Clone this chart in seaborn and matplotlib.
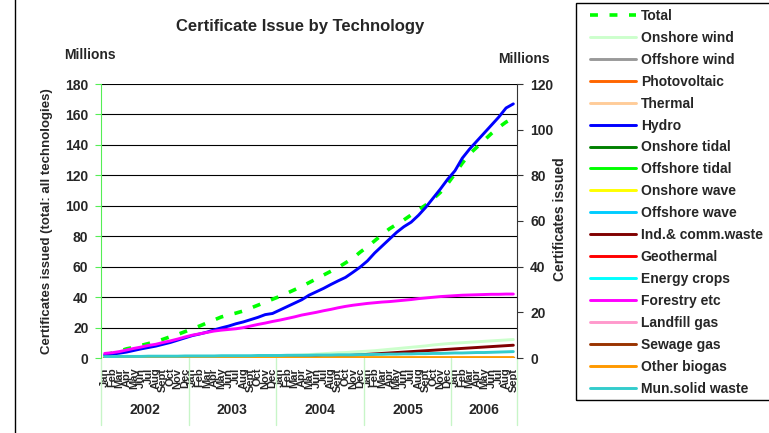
import matplotlib
matplotlib.use('Agg')
import matplotlib.pyplot as plt
import matplotlib.transforms as mtransforms
from matplotlib.patches import Rectangle
import seaborn as sns

#%% data (millions of certificates, Jan 2002 .. Sep 2006)
month_names = ['Jan', 'Feb', 'Mar', 'Apr', 'May', 'Jun',
               'Jul', 'Aug', 'Sept', 'Oct', 'Nov', 'Dec']
months = month_names * 4 + month_names[:9]
years = ['2002', '2003', '2004', '2005', '2006']

# left axis
total = [2.0, 3.2, 4.5, 6.0, 7.0, 8.3, 9.5, 10.8, 12.3, 14.0, 15.5, 17.3,
         19.2, 21.0, 23.0, 25.0, 27.0, 28.3, 29.5, 30.9, 32.8, 34.7, 36.6, 38.6,
         40.5, 42.6, 44.8, 47.0, 49.5, 52.0, 54.5, 57.0, 59.5, 62.5, 65.5, 69.5,
         73.0, 77.0, 81.0, 84.8, 87.8, 90.7, 94.0, 97.3, 100.5, 104.5, 108.8, 114.5,
         121.0, 128.0, 134.0, 138.5, 143.0, 147.5, 151.5, 155.0, 157.5]

# right axis
hydro = [1.3, 1.7, 2.1, 2.6, 3.3, 4.0, 4.6, 5.2, 6.0, 6.8, 7.8, 8.8,
         9.8, 10.5, 11.3, 12.3, 13.2, 14.0, 15.0, 15.8, 16.8, 17.8, 19.0, 19.5,
         21.0, 22.5, 24.0, 25.5, 27.5, 29.0, 30.5, 32.2, 33.8, 35.3, 37.5, 39.8,
         42.5, 46.0, 49.0, 52.0, 55.0, 57.5, 59.5, 62.5, 66.0, 70.0, 74.0, 78.3,
         82.0, 87.5, 91.5, 95.0, 98.5, 102.0, 105.5, 109.5, 111.3]
forestry = [2.0, 2.3, 2.8, 3.5, 4.2, 4.8, 5.5, 6.0, 6.8, 7.5, 8.3, 9.2,
            10.0, 10.6, 11.2, 11.8, 12.2, 12.5, 12.8, 13.3, 14.0, 14.7, 15.3, 16.0,
            16.6, 17.3, 18.0, 18.8, 19.4, 20.0, 20.7, 21.3, 22.0, 22.6, 23.1, 23.5,
            23.9, 24.2, 24.5, 24.7, 25.0, 25.3, 25.6, 26.0, 26.3, 26.6, 26.9, 27.1,
            27.3, 27.5, 27.6, 27.7, 27.8, 27.9, 27.9, 28.0, 28.0]
onshore_wind = [0.2, 0.2, 0.2, 0.2, 0.2, 0.3, 0.3, 0.3, 0.3, 0.3, 0.3, 0.4,
                0.4, 0.4, 0.4, 0.5, 0.5, 0.5, 0.5, 0.6, 0.6, 0.6, 0.7, 0.7,
                0.9, 1.0, 1.2, 1.3, 1.5, 1.7, 1.9, 2.1, 2.3, 2.4, 2.6, 2.8,
                3.0, 3.2, 3.5, 3.8, 4.1, 4.4, 4.7, 5.0, 5.3, 5.7, 6.0, 6.3,
                6.5, 6.7, 6.9, 7.1, 7.3, 7.5, 7.7, 7.9, 8.1]
ind_waste = [0.0, 0.0, 0.0, 0.0, 0.0, 0.0, 0.0, 0.0, 0.0, 0.0, 0.0, 0.0,
             0.0, 0.0, 0.0, 0.0, 0.0, 0.0, 0.0, 0.0, 0.0, 0.0, 0.0, 0.0,
             0.1, 0.1, 0.2, 0.2, 0.3, 0.4, 0.5, 0.6, 0.8, 1.0, 1.2, 1.4,
             1.6, 1.8, 2.0, 2.2, 2.4, 2.6, 2.8, 3.0, 3.2, 3.4, 3.6, 3.8,
             4.0, 4.2, 4.4, 4.6, 4.8, 5.0, 5.2, 5.4, 5.6]
mun_waste = [0.6, 0.6, 0.7, 0.7, 0.7, 0.7, 0.8, 0.8, 0.8, 0.8, 0.8, 0.9,
             0.9, 0.9, 0.9, 0.9, 1.0, 1.0, 1.0, 1.0, 1.0, 1.1, 1.1, 1.1,
             1.1, 1.2, 1.2, 1.2, 1.2, 1.3, 1.3, 1.3, 1.4, 1.4, 1.4, 1.5,
             1.5, 1.6, 1.6, 1.7, 1.7, 1.8, 1.8, 1.9, 1.9, 2.0, 2.0, 2.1,
             2.2, 2.2, 2.3, 2.4, 2.4, 2.5, 2.6, 2.7, 2.8]
other_biogas = [0.1, 0.1, 0.1, 0.1, 0.1, 0.1, 0.1, 0.1, 0.1, 0.1, 0.1, 0.1,
                0.1, 0.1, 0.1, 0.1, 0.1, 0.1, 0.1, 0.1, 0.1, 0.1, 0.1, 0.1,
                0.1, 0.1, 0.1, 0.1, 0.1, 0.1, 0.2, 0.2, 0.2, 0.2, 0.2, 0.2,
                0.2, 0.2, 0.2, 0.2, 0.2, 0.2, 0.2, 0.2, 0.2, 0.2, 0.2, 0.2,
                0.2, 0.2, 0.2, 0.2, 0.2, 0.2, 0.2, 0.2, 0.2]
# technologies that stay at (about) zero over the whole period
flat_zero = [0.0] * len(months)

series = [  # (label, values, colour)
    ('Onshore wind', onshore_wind, '#ccffcc'),
    ('Offshore wind', flat_zero, '#999999'),
    ('Photovoltaic', flat_zero, '#ff6600'),
    ('Thermal', flat_zero, '#ffcc99'),
    ('Hydro', hydro, '#0000ff'),
    ('Onshore tidal', flat_zero, '#008000'),
    ('Offshore tidal', flat_zero, '#00ff00'),
    ('Onshore wave', flat_zero, '#ffff00'),
    ('Offshore wave', flat_zero, '#00ccff'),
    ('Ind.& comm.waste', ind_waste, '#800000'),
    ('Geothermal', flat_zero, '#ff0000'),
    ('Energy crops', flat_zero, '#00ffff'),
    ('Forestry etc', forestry, '#ff00ff'),
    ('Landfill gas', flat_zero, '#ff99cc'),
    ('Sewage gas', flat_zero, '#993300'),
    ('Other biogas', other_biogas, '#ff9900'),
    ('Mun.solid waste', mun_waste, '#33cccc'),
]

#%% figure
sns.set_style('white')
plt.rcParams['font.family'] = ['Liberation Sans', 'DejaVu Sans']
plt.rcParams['font.weight'] = 'bold'

W, H = 769, 433
fig = plt.figure(figsize=(W / 100, H / 100), dpi=100)
ax = fig.add_axes([101 / W, 1 - 358 / H, (517 - 101) / W, (358 - 84) / H])
ax2 = ax.twinx()

idx = list(range(len(months)))
axis_green = '#55ee55'
sep_green = '#c8f5c8'

sns.lineplot(x=idx, y=total, ax=ax, color='#00ff00', lw=2.6,
             linestyle=(0, (2.2, 3.2)), label='Total', legend=False)
for name, vals, col in series:
    sns.lineplot(x=idx, y=vals, ax=ax2, color=col, lw=2.1, label=name, legend=False)

ax.set_xlim(-0.5, len(months) - 0.5)
ax.set_ylim(0, 180)
ax2.set_ylim(0, 120)
ax.set_yticks(range(0, 181, 20))
ax2.set_yticks(range(0, 121, 20))
ax.grid(axis='y', color='black', lw=0.8)
ax.grid(axis='x', visible=False)
ax.set_axisbelow(True)

for s in ['top', 'right', 'bottom']:
    ax.spines[s].set_visible(False)
for s in ['top', 'left', 'bottom']:
    ax2.spines[s].set_visible(False)
ax.spines['left'].set_color(axis_green)
ax2.spines['right'].set_color('#333333')

ax.tick_params(axis='y', length=4, color=axis_green, pad=5, labelsize=10, left=True)
ax2.tick_params(axis='y', length=4, color='#333333', pad=5.5, labelsize=10, right=True)
ax.set_xticks(idx)
ax.set_xticklabels(months, rotation=90, fontsize=8, fontweight='bold')
ax.tick_params(axis='x', length=0, pad=7)
for t in ax.get_yticklabels() + ax2.get_yticklabels():
    t.set_fontweight('bold')

# year groups below the month labels
trans = mtransforms.blended_transform_factory(ax.transData, ax.transAxes)
bounds = [-0.5, 11.5, 23.5, 35.5, 47.5, 56.5]
for b in bounds:
    ax.plot([b, b], [0, -0.245], transform=trans, clip_on=False, color=sep_green, lw=1)
for y, lo, hi in zip(years, bounds[:-1], bounds[1:]):
    ax.text((lo + hi) / 2, -0.19, y, transform=trans, ha='center', va='center',
            fontsize=10, fontweight='bold')

# titles and axis labels
fig.text(300 / W, 1 - 26 / H, 'Certificate Issue by Technology', ha='center', va='center',
         fontsize=12, fontweight='bold')
fig.text(90 / W, 1 - 55 / H, 'Millions', ha='center', va='center', fontsize=10, fontweight='bold')
fig.text(524 / W, 1 - 59 / H, 'Millions', ha='center', va='center', fontsize=10, fontweight='bold')
fig.text(47 / W, 1 - 221 / H, 'Certificates issued (total: all technologies)', rotation=90,
         ha='center', va='center', fontsize=9.5, fontweight='bold')
fig.text(560 / W, 1 - 219 / H, 'Certificates issued', rotation=90,
         ha='center', va='center', fontsize=10, fontweight='bold')

# legend
h1, l1 = ax.get_legend_handles_labels()
h2, l2 = ax2.get_legend_handles_labels()
fig.legend(h1 + h2, l1 + l2, loc='upper left', bbox_to_anchor=(583 / W, 1 - 2 / H),
           frameon=False, borderpad=0, handlelength=3.3, handletextpad=0.35,
           labelspacing=0.57, prop={'weight': 'bold', 'size': 10})

# chart frame and legend frame
fig.add_artist(Rectangle((15 / W, -0.2), 1.2, 1.2 + (1 - 3 / H), transform=fig.transFigure,
                         fill=False, ec='black', lw=1))
fig.add_artist(Rectangle((576 / W, 1 - 400 / H), 1.0, (400 - 3) / H, transform=fig.transFigure,
                         fill=False, ec='black', lw=1))

fig.savefig('out.png', dpi=100)
